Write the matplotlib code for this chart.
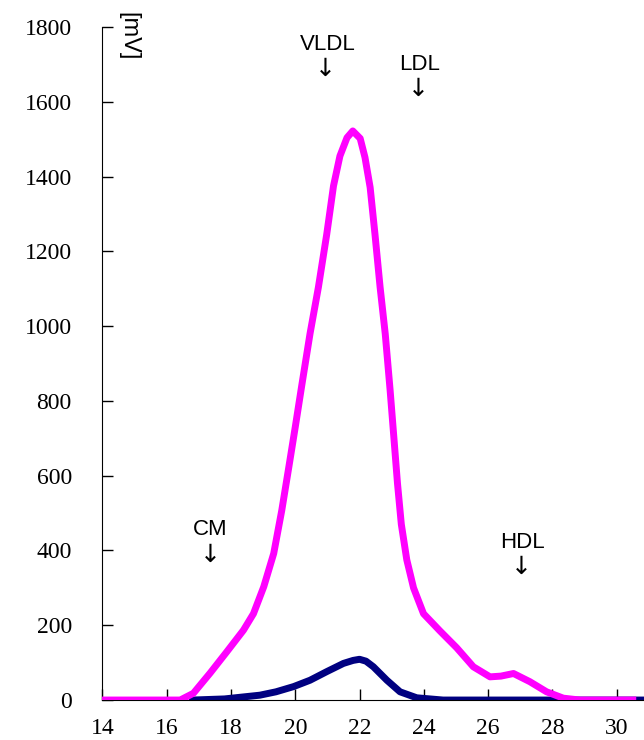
import matplotlib.pyplot as plt

# ---------------------- data ----------------------
# total (magenta) trace, elution time [min] vs signal [mV]
tc_x = [14.0, 16.0, 16.42, 16.83, 17.35, 17.87, 18.39, 18.70, 19.02, 19.33, 19.58,
        19.80, 20.0, 20.2, 20.46, 20.72, 20.98, 21.19, 21.39, 21.61, 21.79, 22.02,
        22.17, 22.33, 22.48, 22.64, 22.80, 22.95, 23.07, 23.18, 23.30, 23.47, 23.68,
        23.99, 24.50, 25.02, 25.54, 26.06, 26.40, 26.79, 27.30, 27.82, 28.34, 28.86,
        29.5, 30.5]
tc_y = [0, 0, 0, 18, 72, 129, 187, 231, 303, 392, 507,
        623, 730, 840, 980, 1104, 1246, 1375, 1455, 1504, 1522, 1502,
        1451, 1371, 1246, 1104, 979, 830, 700, 580, 470, 375, 300,
        231, 185, 140, 89, 62, 64, 71, 49, 22, 5, 0,
        0, 0]

# second (navy) trace
tg_x = [16.8, 17.8, 18.9, 19.4, 19.95, 20.46, 20.98, 21.5, 21.8, 22.0, 22.2,
        22.43, 22.85, 23.26, 23.78, 24.6, 27.0, 30.9]
tg_y = [0, 3, 13, 22, 36, 53, 76, 98, 106, 109, 104,
        89, 53, 22, 6, 0, 0, 0]

yticks = [0, 200, 400, 600, 800, 1000, 1200, 1400, 1600, 1800]
xticks = [14, 16, 18, 20, 22, 24, 26, 28, 30]

labels = ["VLDL", "LDL", "CM", "HDL"]
label_x = [21.02, 23.88, 17.36, 27.08]
label_y = [1781, 1727, 483, 449]
arrow_x = [20.93, 23.82, 17.36, 27.02]
arrow_y = [1688, 1634, 387, 355]

# ---------------------- plot ----------------------
fig = plt.figure(figsize=(6.44, 7.40), dpi=100)
ax = fig.add_axes([0.159, 0.054, 0.841, 0.9095])

ax.plot(tg_x, tg_y, color='#000080', lw=5, solid_joinstyle='round', zorder=2)
ax.plot(tc_x, tc_y, color='#ff00ff', lw=5, solid_joinstyle='round', zorder=3)

ax.set_xlim(14, 30.85)
ax.set_ylim(0, 1800)
ax.set_xticks(xticks)
ax.set_yticks(yticks)
ax.tick_params(direction='in', length=8, width=1, labelsize=17)
ax.tick_params(axis='y', pad=22)
ax.tick_params(axis='x', pad=13)
for t in ax.get_xticklabels() + ax.get_yticklabels():
    t.set_family('Liberation Serif')

ax.spines['top'].set_visible(False)
ax.spines['right'].set_visible(False)

for name, lx, ly, axx, ayy in zip(labels, label_x, label_y, arrow_x, arrow_y):
    ax.text(lx, ly, name, ha='center', va='top', fontsize=16,
            family='Liberation Sans')
    ax.text(axx, ayy, "\u2193", ha='center', va='center', fontsize=18,
            family='DejaVu Sans')

ax.text(14.8, 1840, "[mV]", rotation=-90, ha='center', va='top', fontsize=17,
        family='Liberation Sans', clip_on=False)

plt.savefig("out.png")
